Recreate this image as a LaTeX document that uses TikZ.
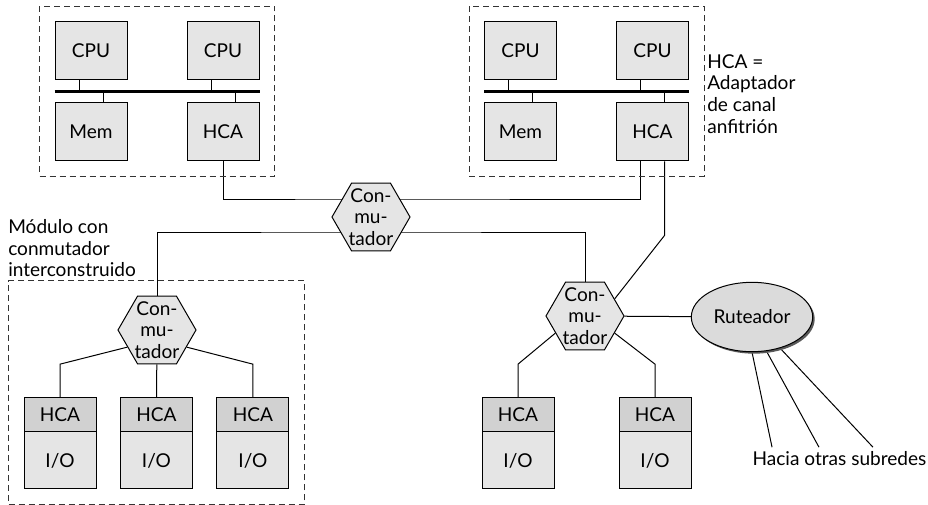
\documentclass[tikz,border=0pt]{standalone}
\usepackage{fontspec}
\setmainfont{Lato}
\usetikzlibrary{shapes.geometric, positioning, fit, calc, backgrounds, shadows}

\definecolor{boxgray}{gray}{0.9}
\definecolor{hcagray}{gray}{0.82}
\definecolor{rtgray}{gray}{0.86}

\begin{document}
\begin{tikzpicture}[
    x=0.75pt, y=-0.75pt,
    font=\fontsize{14.3pt}{16.3pt}\selectfont,
    box/.style={draw, rectangle, minimum width=54pt, minimum height=43.5pt, text centered, fill=boxgray, line width=0.75pt},
    hcatop/.style={draw, rectangle, minimum width=54pt, minimum height=25.5pt, text centered, fill=hcagray, line width=0.75pt},
    iobox/.style={draw, rectangle, minimum width=54pt, minimum height=42.75pt, text centered, fill=boxgray, line width=0.75pt},
    switch/.style={draw, regular polygon, regular polygon sides=6, minimum size=58.5pt, inner sep=0pt, fill=boxgray, line width=0.75pt, label={[align=center, inner sep=0pt]center:Con-\\mu-\\tador}},
    router/.style={draw, ellipse, minimum width=83pt, minimum height=52pt, fill=rtgray, line width=0.75pt, drop shadow={shadow xshift=1.5pt, shadow yshift=-1.5pt, fill=black!65, opacity=1}},
    frame/.style={draw=black!80, dash pattern=on 4.5pt off 3pt, line width=0.75pt, inner sep=11.25pt},
    bus/.style={line width=2.2pt},
    link/.style={line width=0.75pt},
    note/.style={align=left, inner sep=0pt}
]
\useasboundingbox (0,0) rectangle (928,505);

% Host A
\node (cpu1) [box] at (91,51) {CPU};
\node (cpu2) [box, right=44.25pt of cpu1] {CPU};
\node (mem1) [box, below=16.5pt of cpu1] {Mem};
\node (hca1) [box, below=16.5pt of cpu2] {HCA};

\coordinate (bus1w) at ($(cpu1.south west)!0.5!(mem1.north west)$);
\coordinate (bus1e) at ($(cpu2.south east)!0.5!(hca1.north east)$);
\draw [bus] (bus1w) -- (bus1e);
\draw [link] ([xshift=-9pt]cpu1.south) -- ([xshift=-9pt]cpu1.south |- bus1w);
\draw [link] ([xshift=-9pt]cpu2.south) -- ([xshift=-9pt]cpu2.south |- bus1w);
\draw [link] ([xshift=9pt]mem1.north) -- ([xshift=9pt]mem1.north |- bus1w);
\draw [link] ([xshift=9pt]hca1.north) -- ([xshift=9pt]hca1.north |- bus1w);

% Host B
\node (cpu3) [box] at (520.5,51) {CPU};
\node (cpu4) [box, right=44.25pt of cpu3] {CPU};
\node (mem2) [box, below=16.5pt of cpu3] {Mem};
\node (hca2) [box, below=16.5pt of cpu4] {HCA};

\coordinate (bus2w) at ($(cpu3.south west)!0.5!(mem2.north west)$);
\coordinate (bus2e) at ($(cpu4.south east)!0.5!(hca2.north east)$);
\draw [bus] (bus2w) -- (bus2e);
\draw [link] ([xshift=-9pt]cpu3.south) -- ([xshift=-9pt]cpu3.south |- bus2w);
\draw [link] ([xshift=-9pt]cpu4.south) -- ([xshift=-9pt]cpu4.south |- bus2w);
\draw [link] ([xshift=9pt]mem2.north) -- ([xshift=9pt]mem2.north |- bus2w);
\draw [link] ([xshift=9pt]hca2.north) -- ([xshift=9pt]hca2.north |- bus2w);

% Switches and router
\node (sw1) [switch] at (371,217) {};
\node (sw2) [switch] at (157,330) {};
\node (sw3) [switch] at (585,316) {};
\node (rt) [router] at (752,317) {Ruteador};

% I/O units
\node (h1) [hcatop] at (60,415) {HCA};
\node (io1) [iobox, below=-0.75pt of h1] {I/O};
\node (h2) [hcatop, right=17.6pt of h1] {HCA};
\node (io2) [iobox, below=-0.75pt of h2] {I/O};
\node (h3) [hcatop, right=17.6pt of h2] {HCA};
\node (io3) [iobox, below=-0.75pt of h3] {I/O};
\node (h4) [hcatop] at (518,415) {HCA};
\node (io4) [iobox, below=-0.75pt of h4] {I/O};
\node (h5) [hcatop, right=48pt of h4] {HCA};
\node (io5) [iobox, below=-0.75pt of h5] {I/O};

% Notes
\node (hcanote) [note, anchor=north west] at (707,54) {HCA =\\Adaptador\\de canal\\anfitri\'on};
\node (modnote) [note, anchor=north west] at (8,219) {M\'odulo con\\conmutador\\interconstruido};
\node (sub) at (839.5,459) {Hacia otras subredes};

% Enclosing boxes
\node [frame, fit=(cpu1) (hca1)] (hostA) {};
\node [frame, fit=(cpu3) (hca2)] (hostB) {};
\node [frame, fit=(sw2) (h1) (io3)] (module) {};

% Links
\begin{scope}[on background layer]
\draw [link] (hca1.south) |- ($(sw1)+(0,-17)$) -| ([xshift=-9pt]hca2.south);
\draw [link] (sw2) |- ($(sw1)+(0,16)$) -| (sw3);
\draw [link] ([xshift=9pt]hca2.south) -- ++(0,74) -- (sw3.30);
\draw [link] (sw3) -- (rt);
\draw [link] (sw2.210) -- ([yshift=25pt]h1.north) -- (h1.north);
\draw [link] (sw2) -- (h2);
\draw [link] (sw2.330) -- ([yshift=25pt]h3.north) -- (h3.north);
\draw [link] (sw3.210) -- ([yshift=25pt]h4.north) -- (h4.north);
\draw [link] (sw3.330) -- ([yshift=25pt]h5.north) -- (h5.north);
\draw [link] (rt.270) -- ([xshift=-50.6pt]sub.north);
\draw [link] (rt.293) -- ([xshift=-15.4pt]sub.north);
\draw [link] (rt.312) -- ([xshift=25.1pt]sub.north);
\end{scope}

\end{tikzpicture}
\end{document}
